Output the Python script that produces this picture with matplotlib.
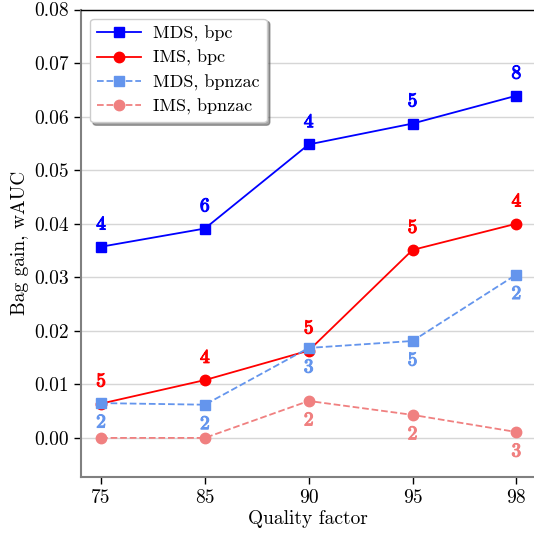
import matplotlib
matplotlib.use("Agg")
import matplotlib.pyplot as plt
import matplotlib.patheffects as pe

plt.rcParams["font.family"] = ["cmr10", "DejaVu Serif"]
plt.rcParams["mathtext.fontset"] = "cm"
plt.rcParams["axes.formatter.use_mathtext"] = True

quality = ["75", "85", "90", "95", "98"]

mds_bpc = [0.0357, 0.0391, 0.0548, 0.0587, 0.0639]
ims_bpc = [0.0064, 0.0108, 0.0163, 0.0351, 0.0400]
mds_bpnzac = [0.0065, 0.0062, 0.0168, 0.0181, 0.0305]
ims_bpnzac = [0.0, 0.0, 0.0069, 0.0043, 0.0011]

mds_bpc_n = ["4", "6", "4", "5", "8"]
ims_bpc_n = ["5", "4", "5", "5", "4"]
mds_bpnzac_n = ["2", "2", "3", "5", "2"]
ims_bpnzac_n = ["", "", "2", "2", "3"]

fig = plt.figure(figsize=(5.34, 5.33), dpi=100)
ax = fig.add_axes([81 / 534, 56 / 533, 1 - 81 / 534, 467.5 / 533])

x = range(len(quality))
ax.plot(x, mds_bpc, "-s", color="blue", ms=7.5, lw=1.3, label="MDS, bpc")
ax.plot(x, ims_bpc, "-o", color="red", ms=7.5, lw=1.3, label="IMS, bpc")
ax.plot(x, mds_bpnzac, "--s", color="cornflowerblue", ms=7.5, lw=1.3, label="MDS, bpnzac")
ax.plot(x, ims_bpnzac, "--o", color="lightcoral", ms=7.5, lw=1.3, label="IMS, bpnzac")

def annotate(vals, labels, color, dy):
    for i, (v, t) in enumerate(zip(vals, labels)):
        if t:
            ax.annotate(t, (i, v), xytext=(0, dy),
                        textcoords="offset points", ha="center", va="center",
                        color=color, fontsize=14,
                        path_effects=[pe.withStroke(linewidth=0.8, foreground=color)])

annotate(mds_bpc, mds_bpc_n, "blue", 16)
annotate(ims_bpc, ims_bpc_n, "red", 16)
annotate(mds_bpnzac, mds_bpnzac_n, "cornflowerblue", -14)
annotate(ims_bpnzac, ims_bpnzac_n, "lightcoral", -14)

ax.set_xticks(list(x))
ax.set_xticklabels(quality)
ax.set_xlim(-0.193, 4.17)
ax.set_ylim(-0.0073, 0.08)
ax.set_yticks([0.0, 0.01, 0.02, 0.03, 0.04, 0.05, 0.06, 0.07, 0.08])
ax.set_yticklabels(["0.00", "0.01", "0.02", "0.03", "0.04", "0.05", "0.06", "0.07", "0.08"])
ax.tick_params(labelsize=14, direction="out", length=5, width=1, colors="black")
ax.yaxis.grid(True, color="#d6d6d6", lw=1)
ax.set_axisbelow(True)
for s in ["left", "bottom"]:
    ax.spines[s].set_color("gray")
    ax.spines[s].set_linewidth(1.5)
ax.spines["top"].set_color("black")
ax.spines["top"].set_linewidth(1.0)
ax.spines["right"].set_visible(False)

ax.set_xlabel("Quality factor", fontsize=14, labelpad=2)
ax.set_ylabel("Bag gain, wAUC", fontsize=14, labelpad=4)

ax.legend(loc="upper left", fontsize=13, shadow=True, fancybox=True,
          framealpha=1, edgecolor="#cccccc", handlelength=2.4,
          bbox_to_anchor=(0.0, 1.0), borderaxespad=0.5, labelspacing=0.45,
          handletextpad=0.7)

fig.savefig("out.png", dpi=100)
